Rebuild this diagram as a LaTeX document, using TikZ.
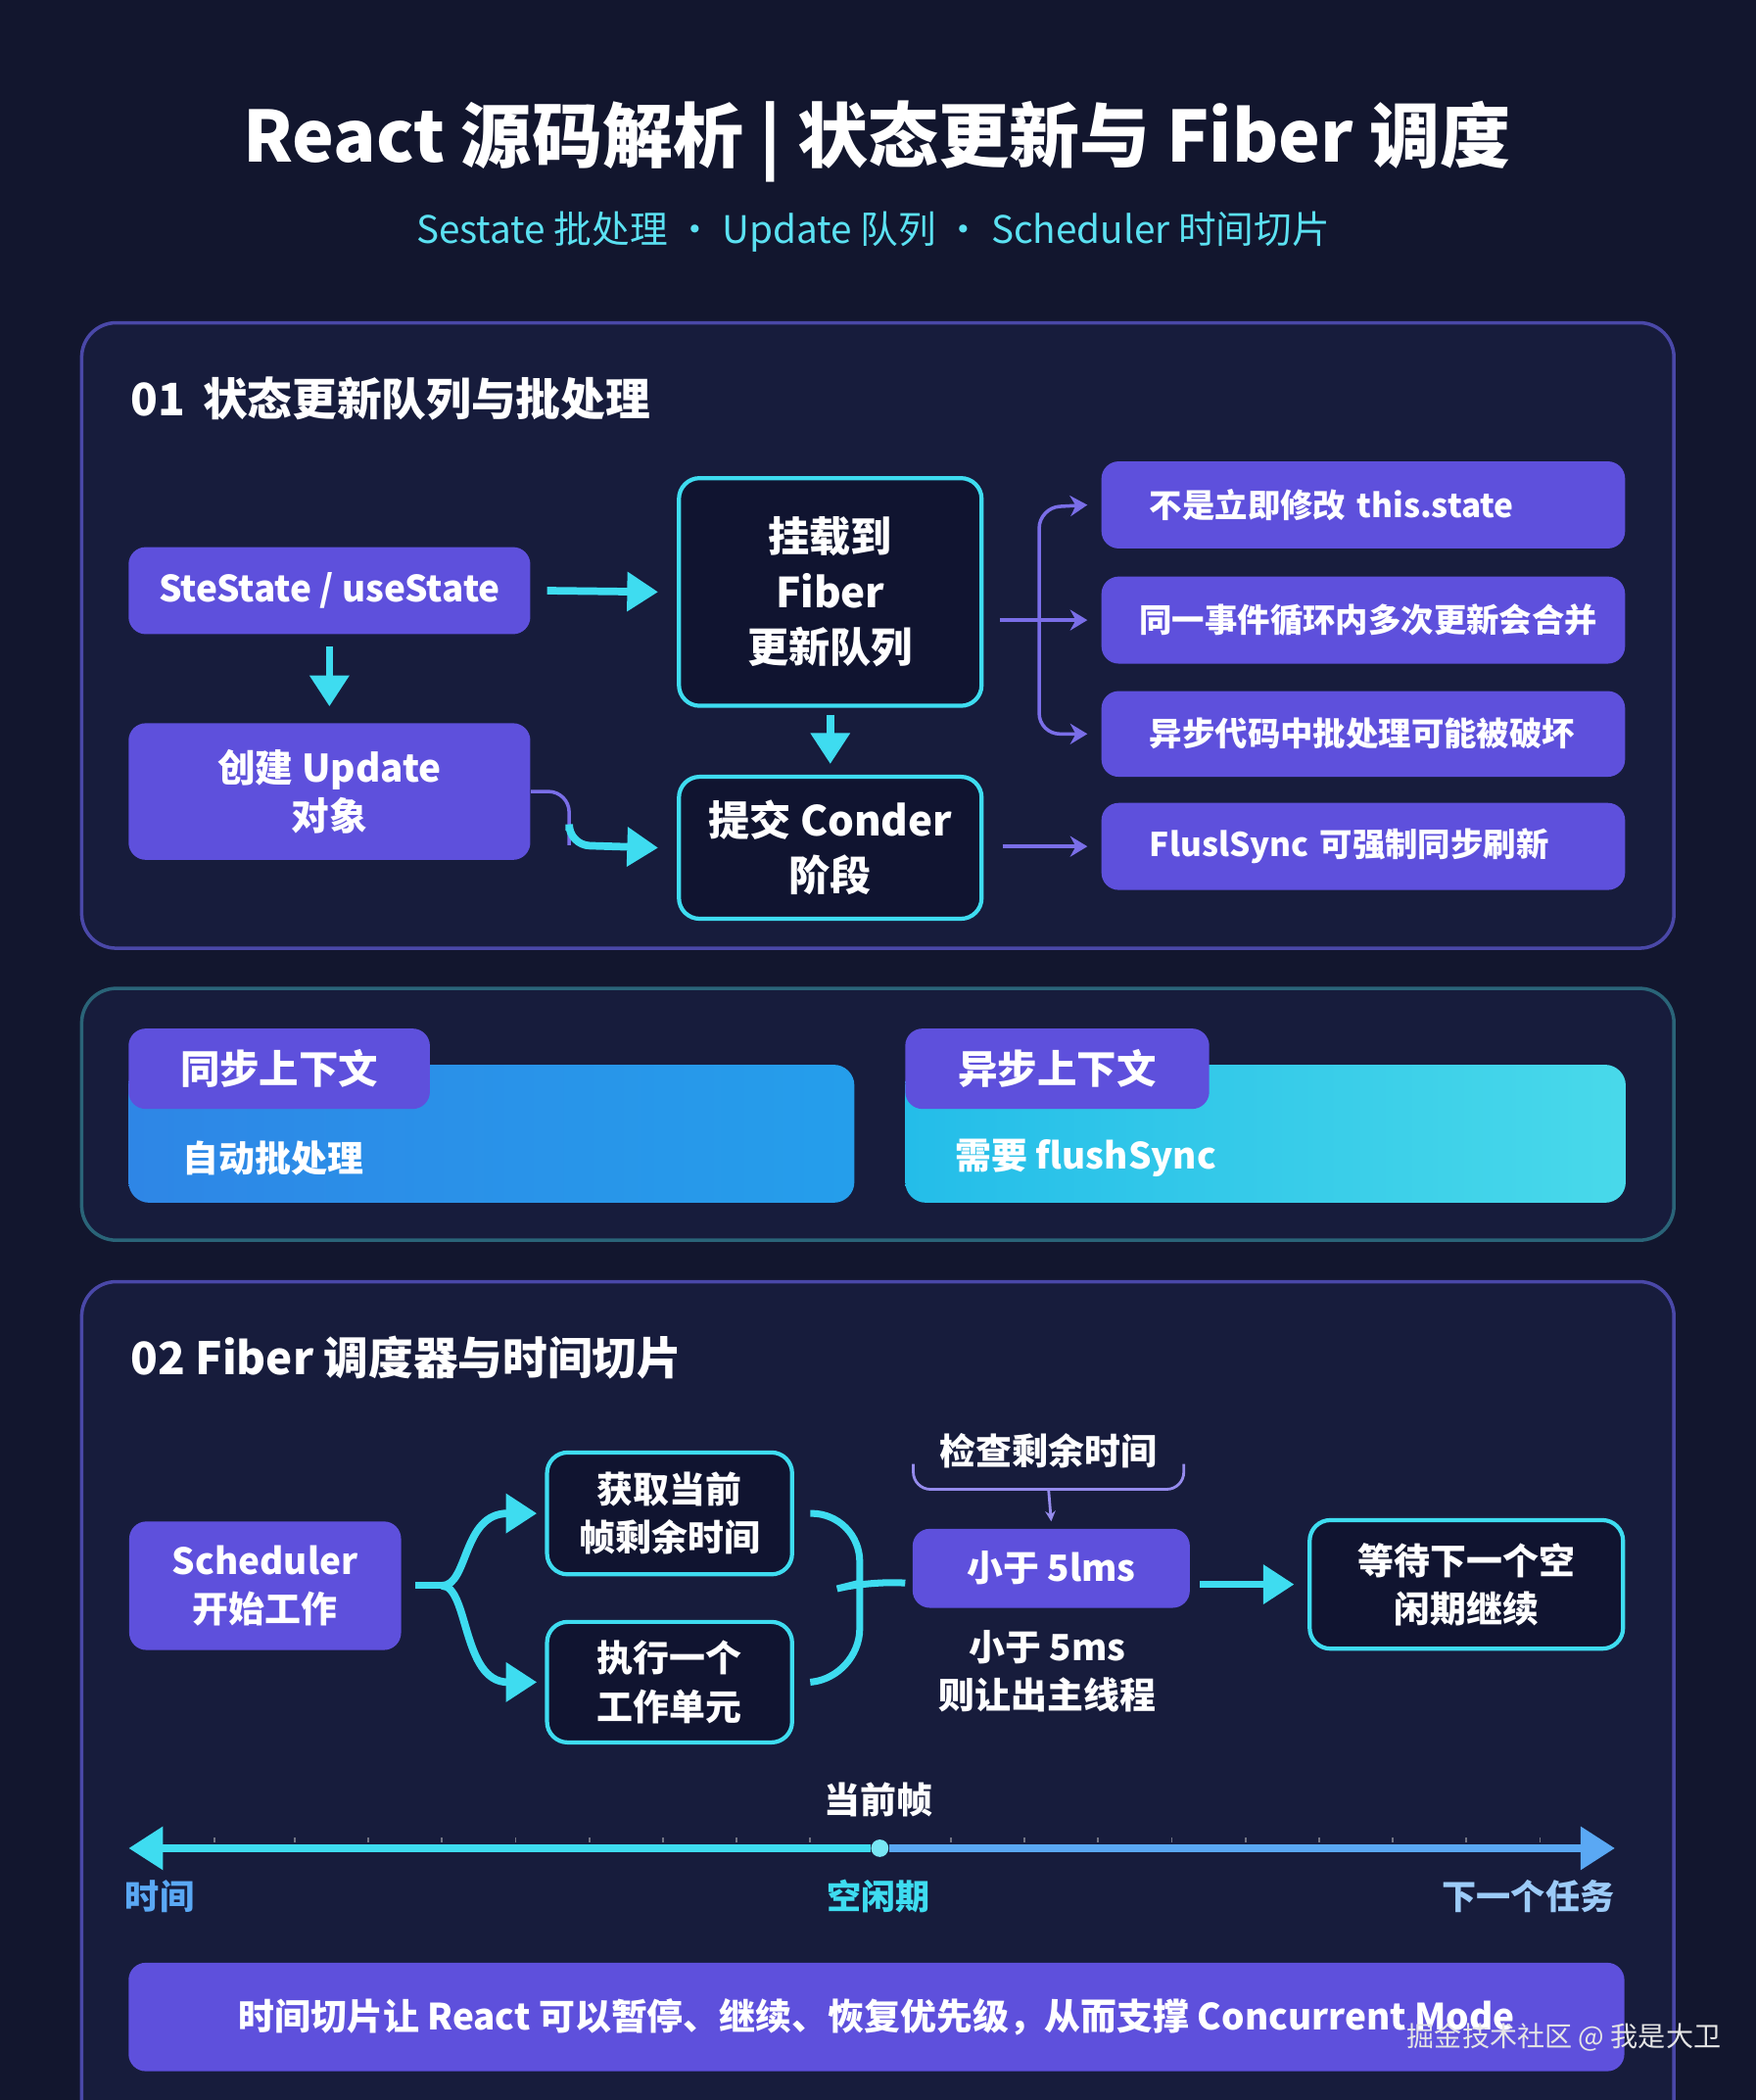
\documentclass[tikz,border=0pt]{standalone}
\usepackage{fontspec}
\setmainfont{Noto Sans CJK SC}
\usetikzlibrary{positioning,arrows.meta}
\definecolor{bgnavy}{HTML}{12162E}
\definecolor{panelbg}{HTML}{171C3C}
\definecolor{panelline}{HTML}{4A48A8}
\definecolor{tealline}{HTML}{2A6478}
\definecolor{boxpurple}{HTML}{5E50DC}
\definecolor{darkbox}{HTML}{101430}
\definecolor{cyanline}{HTML}{3EDCF0}
\definecolor{thinpurple}{HTML}{7A6EE8}
\definecolor{barblue}{HTML}{2E86E6}
\definecolor{barcyan}{HTML}{28D2E6}
\definecolor{lblue}{HTML}{5AA8F4}
\tikzset{
  panel/.style={draw=panelline,line width=1pt,fill=panelbg,rounded corners=10pt},
  pbox/.style={fill=boxpurple,rounded corners=5pt,text=white,font=\bfseries\fontsize{9.5}{12}\selectfont,align=center,inner sep=0pt},
  dbox/.style={draw=cyanline,line width=1.2pt,fill=darkbox,rounded corners=6pt,text=white,font=\bfseries\fontsize{10.5}{14}\selectfont,align=center,inner sep=0pt},
  hdr/.style={anchor=west,inner sep=0pt,text=white,font=\bfseries\fontsize{13}{15}\selectfont},
  cyarrow/.style={draw=cyanline,line width=2.2pt,-{Triangle[length=9pt,width=11pt]}},
  thinarrow/.style={draw=thinpurple,line width=1pt,-{Stealth[length=5pt,width=6pt]}},
  tab/.style={fill=boxpurple,rounded corners=5pt,text=white,font=\bfseries\fontsize{11.5}{14}\selectfont,inner sep=0pt}
}
\begin{document}
\begin{tikzpicture}[x=0.013669cm,y=-0.013669cm]
  \fill[bgnavy] (0,0) rectangle (1311,1568);
  \useasboundingbox (0,0) rectangle (1311,1568);

  % title
  \node[text=white,font=\bfseries\fontsize{20.5}{24}\selectfont] (title) at (655,106) {React 源码解析 | 状态更新与 Fiber 调度};
  \node[text=cyanline!85!white,font=\fontsize{11}{13}\selectfont] (subtitle) at (652,173) {Sestate 批处理 · Update 队列 · Scheduler 时间切片};

  % 01 panel
  \draw[panel] (61,241) rectangle (1250,708);
  \node[hdr] (h1) at (97,298) {01\, 状态更新队列与批处理};

  \node[pbox,minimum width=300*0.013669cm,minimum height=65*0.013669cm,font=\bfseries\fontsize{10.5}{13}\selectfont] (setstate) at (246,441) {SteState / useState};
  \node[pbox,minimum width=300*0.013669cm,minimum height=102*0.013669cm,font=\bfseries\fontsize{11}{14}\selectfont] (update) at (246,591) {创建 Update\\对象};
  \node[dbox,minimum width=226*0.013669cm,minimum height=170*0.013669cm,font=\bfseries\fontsize{12}{16}\selectfont] (queue) at (620,442) {挂载到\\Fiber\\更新队列};
  \node[dbox,minimum width=226*0.013669cm,minimum height=106*0.013669cm,font=\bfseries\fontsize{12}{16}\selectfont] (commit) at (620,633) {提交 Conder\\阶段};

  \node[pbox,minimum width=391*0.013669cm,minimum height=65*0.013669cm,anchor=west,text width=360*0.013669cm,align=left] (n1) at (822,377) {\hspace*{8pt}不是立即修改 this.state};
  \node[pbox,minimum width=391*0.013669cm,minimum height=65*0.013669cm,anchor=west,text width=365*0.013669cm,align=left] (n2) at (822,463) {\hspace*{6pt}同一事件循环内多次更新会合并};
  \node[pbox,minimum width=391*0.013669cm,minimum height=64*0.013669cm,anchor=west,text width=360*0.013669cm,align=left] (n3) at (822,548) {\hspace*{8pt}异步代码中批处理可能被破坏};
  \node[pbox,minimum width=391*0.013669cm,minimum height=65*0.013669cm,anchor=west,text width=360*0.013669cm,align=left] (n4) at (822,632) {\hspace*{8pt}FluslSync 可强制同步刷新};

  \draw[cyarrow] ([xshift=12*0.013669cm]setstate.east) -- ([xshift=-14*0.013669cm]queue.west);
  \draw[cyarrow] ([yshift=-9*0.013669cm]setstate.south) -- ([yshift=12*0.013669cm]update.north);
  \draw[cyarrow] ([yshift=-5*0.013669cm]queue.south) -- ([yshift=8*0.013669cm]commit.north);
  \draw[draw=thinpurple,line width=1pt,rounded corners=6pt] (update.east) -- (425,591) -- (425,631);
  \draw[cyarrow,rounded corners=6pt] (425,620) -- (425,631) -- ([xshift=-14*0.013669cm]commit.west);

  \coordinate (fork) at (776,463);
  \draw[thinarrow] ([xshift=12*0.013669cm]queue.east |- n2.west) -- ([xshift=-10*0.013669cm]n2.west);
  \draw[thinarrow,rounded corners=6pt] (fork) -- (776,379) -- ([xshift=-10*0.013669cm]n1.west);
  \draw[thinarrow,rounded corners=6pt] (fork) -- (776,548) -- ([xshift=-10*0.013669cm]n3.west);
  \draw[thinarrow] ([xshift=14*0.013669cm]commit.east |- n4.west) -- ([xshift=-10*0.013669cm]n4.west);

  % context panel
  \draw[draw=tealline,line width=1pt,fill=panelbg,rounded corners=10pt] (61,738) rectangle (1250,926);
  \shade[left color=barblue,right color=barblue!80!cyan,rounded corners=6pt] (96,795) rectangle (638,898);
  \shade[left color=barcyan!90!blue,right color=barcyan!85!white,rounded corners=6pt] (676,795) rectangle (1214,898);
  \node[tab,minimum width=225*0.013669cm,minimum height=60*0.013669cm] (sync) at (208.5,798) {同步上下文};
  \node[tab,minimum width=227*0.013669cm,minimum height=60*0.013669cm] (async) at (789.5,798) {异步上下文};
  \node[anchor=west,inner sep=0pt,text=white,font=\bfseries\fontsize{10.5}{13}\selectfont] (syncnote) at (136,865) {自动批处理};
  \node[anchor=west,inner sep=0pt,text=white,font=\bfseries\fontsize{10.5}{13}\selectfont] (asyncnote) at (713,865) {需要 flushSync};

  % 02 panel
  \draw[panel] (61,957) rectangle (1250,1600);
  \node[hdr] (h2) at (97,1014) {02 Fiber 调度器与时间切片};

  \node[pbox,minimum width=203*0.013669cm,minimum height=96*0.013669cm,font=\bfseries\fontsize{10.5}{14}\selectfont] (sched) at (198,1184) {Scheduler\\开始工作};
  \node[dbox,minimum width=183*0.013669cm,minimum height=91*0.013669cm] (getframe) at (500,1130) {获取当前\\帧剩余时间};
  \node[dbox,minimum width=183*0.013669cm,minimum height=90*0.013669cm] (unit) at (500,1256) {执行一个\\工作单元};
  \node[pbox,minimum width=207*0.013669cm,minimum height=59*0.013669cm,font=\bfseries\fontsize{10.5}{13}\selectfont] (lt5) at (785,1171) {小于 5lms};
  \node[dbox,minimum width=234*0.013669cm,minimum height=96*0.013669cm] (wait) at (1095,1183) {等待下一个空\\闲期继续};
  \node[text=white,font=\bfseries\fontsize{10.5}{13}\selectfont] (check) at (783,1083) {检查剩余时间};
  \node[text=white,font=\bfseries\fontsize{10.5}{14}\selectfont,align=center] (yield) at (782,1248) {小于 5ms\\则让出主线程};

  \draw[thinpurple!80,line width=0.8pt,rounded corners=5pt] (682,1093) -- (682,1112) -- (884,1112) -- (884,1093);
  \draw[thinpurple!80,line width=0.8pt,-{Stealth[length=3pt,width=3pt]}] (783,1112) -- ([yshift=5*0.013669cm]lt5.north);

  \coordinate (split) at (330,1184);
  \coordinate (join) at (642,1182);
  \draw[cyanline,line width=2pt] ([xshift=10*0.013669cm]sched.east) -- (split);
  \draw[cyarrow] (split) .. controls (350,1184) and (345,1130) .. ([xshift=-6*0.013669cm]getframe.west);
  \draw[cyarrow] (split) .. controls (350,1184) and (345,1256) .. ([xshift=-6*0.013669cm]unit.west);
  \draw[cyanline,line width=2pt,rounded corners=14pt] ([xshift=12*0.013669cm]getframe.east) -- (642,1130) -- (642,1252) -- ([xshift=12*0.013669cm]unit.east);
  \draw[cyanline,line width=2pt,rounded corners=10pt] (join) -- (650,1180) -- ([xshift=-5*0.013669cm]lt5.west |- join);
  \draw[cyarrow] ([xshift=7*0.013669cm]lt5.east |- wait.west) -- ([xshift=-10*0.013669cm]wait.west);

  % timeline
  \coordinate (tl) at (96,1380);
  \coordinate (tr) at (1206,1380);
  \node[circle,fill=cyanline!70!white,inner sep=0pt,minimum size=13*0.013669cm] (now) at (657,1380) {};
  \foreach \tx in {160,220,275,330,385,440,495,550,605,710,765,820,875,930,985,1040,1095,1150}
    \draw[white!40!bgnavy,line width=0.5pt] (\tx,1372) -- (\tx,1376);
  \draw[cyanline,line width=2.5pt,{Triangle[length=10pt,width=12pt]}-] (tl) -- (now);
  \draw[lblue,line width=2.5pt,-{Triangle[length=10pt,width=12pt]}] (now) -- (tr);
  \node[text=white,font=\bfseries\fontsize{10.5}{13}\selectfont] (frame) at (656,1344) {当前帧};
  \node[anchor=west,inner sep=0pt,text=lblue,font=\bfseries\fontsize{10}{13}\selectfont] (tlabel) at (93,1416) {时间};
  \node[text=cyanline,font=\bfseries\fontsize{10}{13}\selectfont] (idle) at (656,1416) {空闲期};
  \node[anchor=east,inner sep=0pt,text=lblue!60!white,font=\bfseries\fontsize{10}{13}\selectfont] (next) at (1206,1416) {下一个任务};

  % bottom bar
  \node[pbox,minimum width=1117*0.013669cm,minimum height=81*0.013669cm,font=\bfseries\fontsize{10.5}{13}\selectfont] (summary) at (654.5,1506) {时间切片让 React 可以暂停、继续、恢复优先级，从而支撑 Concurrent Mode};
  \node[text=white!80!gray,font=\fontsize{8}{10}\selectfont] (mark) at (1168,1521) {掘金技术社区 @ 我是大卫};
\end{tikzpicture}
\end{document}
